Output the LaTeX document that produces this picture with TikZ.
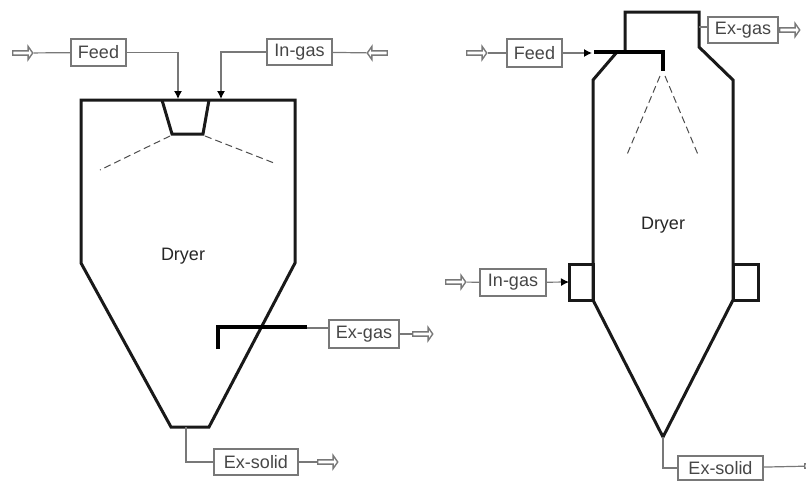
\documentclass[tikz,border=0pt]{standalone}
\usepackage{fontspec}
\setmainfont{Liberation Sans}
\usetikzlibrary{arrows.meta,positioning,shapes.arrows}
\definecolor{pipegray}{RGB}{120,120,120}
\definecolor{labelgray}{RGB}{70,70,70}
\tikzset{
  tag/.style={
    draw=pipegray,
    line width=1.1pt,
    align=center,
    inner sep=0pt,
    text=labelgray,
    font=\fontsize{18}{21}\selectfont
  },
  openarrow/.style={
    draw=pipegray,
    fill=white,
    line width=1.4pt,
    single arrow,
    single arrow head extend=1.5pt,
    single arrow tip angle=110,
    single arrow head indent=0pt,
    minimum width=13pt,
    minimum height=20pt,
    inner sep=0pt
  },
  line/.style={draw=pipegray, line width=1.2pt},
  feedline/.style={line, -{Latex[black,length=8pt,width=8pt]}},
  wall/.style={black!90, line width=3pt, line join=miter},
  pipe/.style={black, line width=3.6pt},
  spray/.style={black!70, line width=1pt, dash pattern=on 7pt off 4pt},
  title/.style={text=black!85, inner sep=0pt, font=\fontsize{18}{21}\selectfont}
}
\begin{document}
\begin{tikzpicture}[x=1pt,y=-1pt]
  \useasboundingbox (0,0) rectangle (806,480);
  % left dryer
  \draw[wall] (81,263) -- (81,100) -- (295,100) -- (295,263) -- (209,427) -- (171,427) -- cycle;
  \draw[wall] (162,100) -- (172,134) -- (203,134) -- (209,100);
  \draw[spray] (170,136) -- (100,170);
  \draw[spray] (205,136) -- (274,163);
  \draw[pipe] (218,349) -- (218,327) -- (307,327);
  \node[title] (dryerL) at (183,256) {Dryer};
  \node[tag, minimum width=55pt, minimum height=27pt] (feedL) at (98.5,52.5) {Feed};
  \node[tag, minimum width=65pt, minimum height=26pt] (ingasL) at (299.5,52) {In-gas};
  \node[tag, minimum width=70pt, minimum height=28pt] (exgasL) at (364,334) {Ex-gas};
  \node[tag, minimum width=84pt, minimum height=26pt] (exsolidL) at (256,462) {Ex-solid};
  \node[openarrow] (feedLin) at (22,53) {};
  \node[openarrow, shape border rotate=180] (ingasLin) at (378,53) {};
  \node[openarrow] (exgasLout) at (422,334) {};
  \node[openarrow] (exsolidLout) at (327,462) {};
  \coordinate (feedLend) at (178,99);
  \coordinate (ingasLend) at (221,99);
  \coordinate (exgasLpipe) at (307,328);
  \coordinate (exsolidLtop) at (186,427);
  \draw[line] (feedLin) -- (feedL);
  \draw[feedline] (feedL) -| (feedLend);
  \draw[line] (ingasLin) -- (ingasL);
  \draw[feedline] (ingasL) -| (ingasLend);
  \draw[line] (exgasLpipe) -- (exgasL.west |- exgasLpipe);
  \draw[line] (exgasL) -- (exgasLout);
  \draw[line] (exsolidLtop) |- (exsolidL);
  \draw[line] (exsolidL) -- (exsolidLout);
  % right dryer
  \draw[wall] (617,52) -- (593,80) -- (593,300) -- (663,437) -- (733,300) -- (733,80) -- (699,47) -- (699,12) -- (625,12) -- (625,50);
  \draw[wall] (593,264) rectangle (569,300);
  \draw[wall] (733,264) rectangle (758,300);
  \draw[pipe] (594,52) -- (663,52) -- (663,71);
  \draw[spray] (660,76) -- (626,157);
  \draw[spray] (665,76) -- (699,157);
  \node[title] (dryerR) at (663,225) {Dryer};
  \node[tag, minimum width=55pt, minimum height=28pt] (feedR) at (534.5,53) {Feed};
  \node[tag, minimum width=66pt, minimum height=27pt] (ingasR) at (513,282.5) {In-gas};
  \node[tag, minimum width=70pt, minimum height=26pt] (exgasR) at (743,30) {Ex-gas};
  \node[tag, minimum width=85pt, minimum height=24pt] (exsolidR) at (720.5,468) {Ex-solid};
  \node[openarrow] (feedRin) at (476,53) {};
  \node[openarrow] (ingasRin) at (455,282) {};
  \node[openarrow] (exgasRout) at (789,30) {};
  \node[openarrow] (exsolidRout) at (814,466) {};
  \coordinate (feedRend) at (592,53);
  \coordinate (ingasRend) at (569,282);
  \coordinate (exgasRwall) at (699,27);
  \coordinate (exsolidRtop) at (663,437);
  \draw[line] (feedRin) -- (feedR);
  \draw[feedline] (feedR) -- (feedRend);
  \draw[line] (ingasRin) -- (ingasR);
  \draw[feedline] (ingasR) -- (ingasRend);
  \draw[line] (exgasRwall) -- (exgasR.west |- exgasRwall);
  \draw[line] (exgasR) -- (exgasRout);
  \draw[line] (exsolidRtop) |- (exsolidR);
  \draw[line] (exsolidR) -- (exsolidRout);
\end{tikzpicture}
\end{document}
